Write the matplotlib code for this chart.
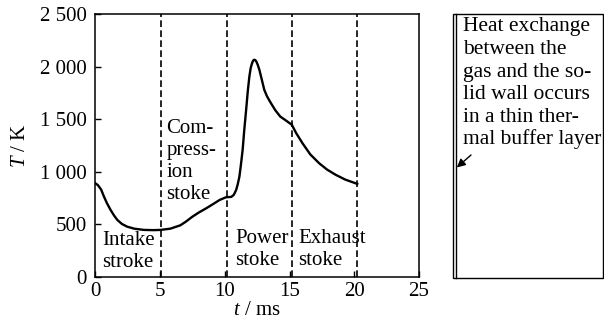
import matplotlib
matplotlib.use("Agg")
import matplotlib.pyplot as plt
from matplotlib.patches import Rectangle, FancyArrowPatch
from matplotlib.lines import Line2D

# Data
t_ms = [0, 0.2, 0.45, 0.67, 0.9, 1.18, 1.45, 1.7, 2.05, 2.46, 3.0, 3.75, 4.5, 5.03,
        5.8, 6.57, 7.0, 7.5, 8.0, 8.57, 9.1, 9.6, 10.1, 10.5, 10.7, 10.88, 11.0,
        11.13, 11.25, 11.38, 11.5, 11.65, 11.78, 11.9, 12.0, 12.1, 12.2, 12.28,
        12.37, 12.45, 12.55, 12.67, 12.85, 13.05, 13.25, 13.5, 13.9, 14.28, 14.8,
        15.18, 15.5, 16.0, 16.6, 17.28, 17.9, 18.57, 19.3, 20.23]
temp_K = [890, 872, 830, 763, 700, 636, 583, 541, 503, 477, 458, 446, 444, 446,
          458, 490, 525, 572, 612, 652, 692, 731, 757, 760, 780, 827, 880,
          953, 1070, 1208, 1390, 1589, 1770, 1906, 1985, 2030, 2058, 2065,
          2060, 2045, 2015, 1970, 1880, 1779, 1720, 1665, 1585, 1525, 1480,
          1446, 1370, 1271, 1165, 1081, 1020, 970, 925, 884]
stroke_bounds = [5.05, 10.2, 15.2, 20.25]
x_ticks = [0, 5, 10, 15, 20, 25]
y_ticks = [0, 500, 1000, 1500, 2000, 2500]
y_tick_labels = ["0", "500", "1 000", "1 500", "2 000", "2 500"]
stroke_labels = [
    (["Intake", "stroke"], 0.55, 303),
    (["Com-", "press-", "ion", "stoke"], 5.5, 1370),
    (["Power", "stoke"], 10.8, 320),
    (["Exhaust", "stoke"], 15.7, 320),
]
note_lines = ["Heat exchange", "between the", "gas and the so-",
              "lid wall occurs", "in a thin ther-", "mal buffer layer"]

W, H = 604, 324
plt.rcParams["font.family"] = ["Liberation Serif", "DejaVu Serif"]
plt.rcParams["mathtext.fontset"] = "custom"
plt.rcParams["mathtext.rm"] = "Liberation Serif"
plt.rcParams["mathtext.it"] = "Liberation Serif:italic"
FS = 15

fig = plt.figure(figsize=(W / 100, H / 100), dpi=100)

# Main axes (pixel box 95..419 x 14..277)
ax = fig.add_axes([95.3 / W, 1 - 276.8 / H, (419 - 95.3) / W, (276.8 - 14) / H])
ax.plot(t_ms, temp_K, color="black", lw=1.7, solid_joinstyle="round")
for xb in stroke_bounds:
    ax.axvline(xb, color="black", lw=1.2, dashes=(4, 2))
ax.set_xlim(0, 25)
ax.set_ylim(0, 2500)
ax.set_xticks(x_ticks)
ax.set_yticks(y_ticks)
ax.set_yticklabels(y_tick_labels)
ax.tick_params(direction="in", length=4.5, width=1.0, labelsize=FS,
               top=False, right=False)
ax.tick_params(axis="y", pad=6)
ax.tick_params(axis="x", pad=4)
for s in ax.spines.values():
    s.set_linewidth(1.1)
ax.set_xlabel("$t$ / ms", fontsize=FS, labelpad=0)
ax.set_ylabel("$T$ / K", fontsize=FS, labelpad=7)

# stroke names, one line at a time with a fixed pitch
pitch_pt = 22 * 72 / 100
for lines, x0, y0 in stroke_labels:
    for i, ln in enumerate(lines):
        ax.annotate(ln, xy=(x0, y0), xytext=(0, -i * pitch_pt),
                    textcoords="offset points", ha="left", va="baseline",
                    fontsize=FS)

# Side note box
bx0, bx1, by0, by1 = 452.7, 603.3, 14, 278.3
fig.patches.append(Rectangle((bx0 / W, 1 - by1 / H), (bx1 - bx0) / W, (by1 - by0) / H,
                             transform=fig.transFigure, fill=False,
                             edgecolor="black", lw=1.0))
fig.lines.append(Line2D([456.5 / W, 456.5 / W], [1 - by1 / H, 1 - by0 / H],
                        transform=fig.transFigure, color="black", lw=1.0))
for i, ln in enumerate(note_lines):
    fig.text(463 / W, 1 - (31.5 + i * 22.5) / H, ln, ha="left", va="baseline",
             fontsize=15.5)
fig.add_artist(FancyArrowPatch(
    (471 / W, 1 - 155 / H), (456.8 / W, 1 - 167.5 / H),
    transform=fig.transFigure, arrowstyle="-|>,head_length=5,head_width=2.5",
    color="black", lw=1.0, shrinkA=0, shrinkB=0, mutation_scale=1))

fig.savefig("out.png", dpi=100)
